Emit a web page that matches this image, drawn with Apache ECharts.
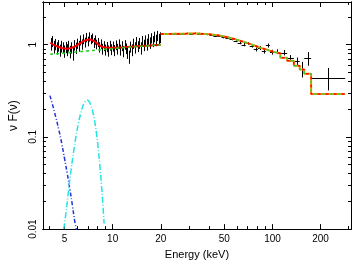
<!DOCTYPE html>
<html><head><meta charset="utf-8">
<script src="https://cdn.jsdelivr.net/npm/echarts@6/dist/echarts.min.js"></script>
<style>html,body{margin:0;padding:0;background:#fff}#c{width:354px;height:265px}</style>
</head><body><div id="c"></div>
<script>
// ---- soft band data (4-20 keV) ----
const softE = [4.10,4.19,4.28,4.37,4.46,4.56,4.66,4.76,4.86,4.96,5.07,5.18,5.29,5.40,5.52,5.64,5.76,5.88,6.01,6.14,6.27,6.40,6.54,6.68,6.82,6.97,7.12,7.27,7.43,7.59,7.75,7.92,8.09,8.26,8.44,8.62,8.81,9.00,9.19,9.39,9.59,9.80,10.01,10.22,10.44,10.67,10.90,11.13,11.37,11.62,11.87,12.12,12.38,12.65,12.92,13.20,13.48,13.77,14.07,14.37,14.68,15.00,15.32,15.65,15.98,16.33,16.68,17.04,17.40,17.78,18.16,18.55,18.95,19.36,19.78];
const softF = [1.02,1.09,0.95,1.01,0.92,0.98,0.87,0.96,0.93,0.85,0.94,0.88,0.97,0.84,0.93,0.80,0.99,0.92,1.03,0.97,1.12,1.01,1.15,1.06,1.20,1.09,1.22,1.14,1.18,1.05,1.13,1.01,1.06,0.94,1.02,0.90,0.97,0.88,0.95,0.86,0.98,0.89,0.96,0.87,0.99,0.90,1.02,0.88,0.97,0.85,1.00,0.91,0.82,0.74,0.95,0.88,1.03,0.93,1.08,0.96,1.04,0.92,1.10,0.99,1.12,1.01,1.15,1.05,1.18,1.09,1.22,1.12,1.25,1.15,1.20];
const softErr = [0.16,0.15,0.15,0.14,0.14,0.14,0.13,0.14,0.13,0.13,0.13,0.13,0.13,0.13,0.13,0.13,0.13,0.13,0.13,0.13,0.14,0.13,0.14,0.13,0.14,0.13,0.14,0.13,0.14,0.13,0.13,0.12,0.12,0.12,0.12,0.12,0.12,0.12,0.12,0.12,0.12,0.12,0.12,0.12,0.12,0.12,0.12,0.12,0.12,0.12,0.12,0.12,0.12,0.12,0.13,0.13,0.13,0.13,0.13,0.13,0.14,0.14,0.14,0.14,0.14,0.15,0.15,0.15,0.15,0.15,0.16,0.16,0.16,0.16,0.16];
// ---- hard band data (20-285 keV) ----
const hardEdges = [20,21.2,22.5,23.8,25.3,26.8,28.4,30.1,31.9,33.8,35.8,38.0,40.3,42.7,45.3,48.0,50.8,53.9,57.1,60.5,64.1,68.0,72.0,76.4,80.9,85.8,90.9,96.4,102.1,112,123.5,136,148,158,174.5,285];
const hardF = [1.30,1.31,1.30,1.32,1.31,1.32,1.33,1.31,1.33,1.32,1.30,1.29,1.27,1.25,1.24,1.20,1.19,1.15,1.10,1.05,1.00,1.03,0.97,0.89,0.92,0.85,0.98,0.83,0.84,0.82,0.71,0.66,0.545,0.71,0.439];
const hardErr = [0.02,0.02,0.02,0.02,0.02,0.02,0.02,0.02,0.025,0.025,0.025,0.025,0.03,0.03,0.03,0.03,0.035,0.035,0.035,0.04,0.04,0.04,0.04,0.045,0.045,0.05,0.05,0.05,0.05,0.055,0.06,0.065,0.105,0.12,0.12];
const hardModel = [1.305,1.305,1.31,1.31,1.315,1.315,1.32,1.32,1.32,1.315,1.305,1.295,1.28,1.265,1.245,1.22,1.19,1.16,1.125,1.09,1.055,1.02,0.985,0.95,0.915,0.89,0.86,0.835,0.80,0.72,0.667,0.59,0.537,0.483,0.292];
// ---- soft model components ----
const totE = [4.07,4.4,4.8,5.2,5.6,6.0,6.4,6.8,7.2,7.6,8.0,8.4,8.8,9.5,10,12,15,18,20];
const totF = [1.05,0.97,0.92,0.905,0.93,0.99,1.06,1.12,1.137,1.10,1.03,0.97,0.935,0.925,0.925,0.94,0.965,0.985,0.995];
const contE = [4.07,5,6,7,8,9,10,12,15,20];
const contF = [0.785,0.81,0.835,0.855,0.875,0.89,0.905,0.93,0.96,0.995];
const bbE = [4.05,4.2,4.4,4.6,4.8,5.0,5.2,5.4,5.6,5.8,5.95];
const bbF = [0.28,0.225,0.165,0.12,0.085,0.058,0.04,0.027,0.018,0.012,0.0095];
const lineE = [4.94,5.1,5.3,5.5,5.7,5.9,6.1,6.3,6.5,6.7,6.93,7.1,7.3,7.5,7.7,7.9,8.1,8.3,8.5,8.7,8.84];
const lineF = [0.01,0.0148,0.0265,0.0444,0.0695,0.102,0.139,0.178,0.213,0.238,0.249,0.243,0.222,0.189,0.151,0.113,0.0785,0.051,0.031,0.0177,0.0115];
// ---- axes ----
const xRange = [3.66, 310];
const yRange = [0.01, 2.9];
const xMajor = [5,10,20,50,100,200];
const xMinor = [4,6,7,8,9,30,40,60,70,80,90,300];
const yMajor = [0.01,0.1,1];
const yMinor = [0.02,0.03,0.04,0.05,0.06,0.07,0.08,0.09,0.2,0.3,0.4,0.5,0.6,0.7,0.8,0.9,2];

const L = Math.log10;
const FONT = 'Liberation Sans';
const fmt = v => String(+Math.pow(10, v).toPrecision(2));
const pairs = (xs, ys) => xs.map((x, i) => [L(x), L(ys[i])]);

const softErrData = softE.map((e, i) => [L(e), L(softF[i]), L(softF[i] - softErr[i]), L(softF[i] + softErr[i]), L(e), L(e)]);
const hardErrData = hardF.map((f, i) => {
  const lo = hardEdges[i], hi = hardEdges[i + 1];
  return [(L(lo) + L(hi)) / 2, L(f), L(f - hardErr[i]), L(f + hardErr[i]), L(lo), L(hi)];
});
const stepData = hardModel.map((v, i) => [L(hardEdges[i]), L(v)]);
stepData.push([L(hardEdges[hardEdges.length - 1]), L(hardModel[hardModel.length - 1])]);

function errRender(params, api) {
  const x = api.value(0), y = api.value(1);
  const a = api.coord([x, api.value(2)]), b = api.coord([x, api.value(3)]);
  const l = api.coord([api.value(4), y]), r = api.coord([api.value(5), y]);
  const cx = Math.round(a[0]) + 0.5, cy = Math.round(l[1]) + 0.5;
  const st = { stroke: '#000', lineWidth: 1 };
  const kids = [{ type: 'line', shape: { x1: cx, y1: a[1], x2: cx, y2: b[1] }, style: st }];
  if (r[0] - l[0] > 1) kids.push({ type: 'line', shape: { x1: l[0], y1: cy, x2: r[0], y2: cy }, style: st });
  return { type: 'group', children: kids };
}

function xAx(pos, vals, len, labels) {
  return {
    type: 'value', position: pos, min: L(xRange[0]), max: L(xRange[1]),
    splitLine: { show: false },
    axisLine: { show: true, onZero: false, lineStyle: { color: '#000', width: 1 } },
    axisTick: { show: true, inside: true, length: len, customValues: vals.map(L), lineStyle: { color: '#000' } },
    axisLabel: labels ? { show: true, customValues: vals.map(L), formatter: fmt, fontFamily: FONT, fontSize: 10, color: '#000', margin: 5 } : { show: false },
    name: labels ? 'Energy (keV)' : '', nameLocation: 'middle', nameGap: 17,
    nameTextStyle: { fontFamily: FONT, fontSize: 11, color: '#000' }
  };
}
function yAx(pos, vals, len, labels) {
  return {
    type: 'value', position: pos, min: L(yRange[0]), max: L(yRange[1]),
    splitLine: { show: false },
    axisLine: { show: true, onZero: false, lineStyle: { color: '#000', width: 1 } },
    axisTick: { show: true, inside: true, length: len, customValues: vals.map(L), lineStyle: { color: '#000' } },
    axisLabel: labels ? { show: true, rotate: 90, customValues: vals.map(L), formatter: fmt, fontFamily: FONT, fontSize: 10, color: '#000', margin: 5 } : { show: false },
    name: labels ? 'ν F(ν)' : '', nameLocation: 'middle', nameGap: 22,
    nameTextStyle: { fontFamily: FONT, fontSize: 12, color: '#000' }
  };
}

const chart = echarts.init(document.getElementById('c'), null, { renderer: 'canvas' });
chart.setOption({
  animation: false,
  backgroundColor: '#fff',
  grid: { left: 36, right: 3, top: 2, bottom: 29, containLabel: false },
  xAxis: [xAx('bottom', xMajor, 5, true), xAx('bottom', xMinor, 3, false), xAx('top', xMajor, 5, false), xAx('top', xMinor, 3, false)],
  yAxis: [yAx('left', yMajor, 5, true), yAx('left', yMinor, 3, false), yAx('right', yMajor, 5, false), yAx('right', yMinor, 3, false)],
  series: [
    { type: 'custom', renderItem: errRender, data: softErrData, clip: true, z: 1 },
    { type: 'custom', renderItem: errRender, data: hardErrData, clip: true, z: 1 },
    { type: 'line', data: pairs(bbE, bbF), showSymbol: false, smooth: true, lineStyle: { color: '#2233dd', width: 1.5, type: [4, 2, 1, 2] }, z: 3 },
    { type: 'line', data: pairs(lineE, lineF), showSymbol: false, smooth: true, lineStyle: { color: '#22e4e4', width: 1.5, type: [6, 2, 1, 2] }, z: 3 },
    { type: 'line', data: pairs(totE, totF), showSymbol: false, smooth: true, lineStyle: { color: '#ff0000', width: 2 }, z: 4 },
    { type: 'line', data: pairs(contE, contF), showSymbol: false, smooth: true, lineStyle: { color: '#22cc22', width: 1.5, type: [3, 3] }, z: 5 },
    { type: 'line', data: stepData, step: 'end', showSymbol: false, lineStyle: { color: '#ff9900', width: 2 }, z: 4 },
    { type: 'line', data: stepData, step: 'end', showSymbol: false, lineStyle: { color: '#ff0000', width: 1.5, type: [3, 5] }, z: 5 },
    { type: 'line', data: stepData, step: 'end', showSymbol: false, lineStyle: { color: '#33cc33', width: 1.5, type: [3, 5], dashOffset: 4 }, z: 5 }
  ]
});
</script></body></html>
